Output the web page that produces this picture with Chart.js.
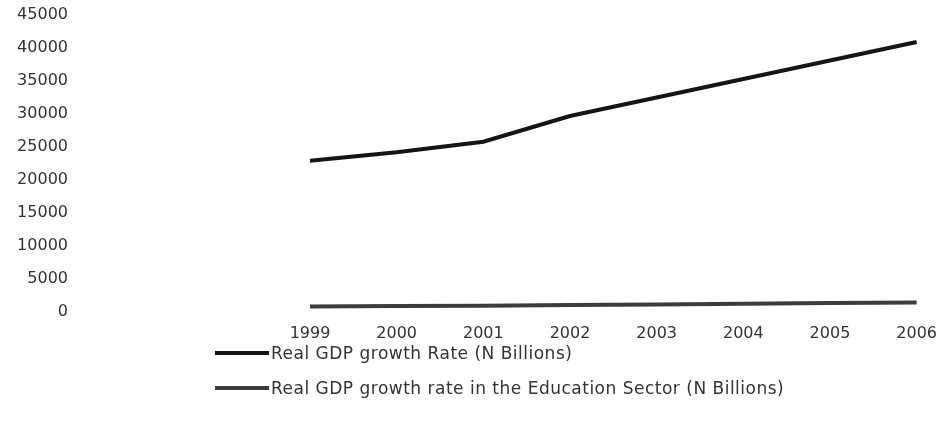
<!DOCTYPE html>
<html>
<head>
<meta charset="utf-8">
<script src="https://cdn.jsdelivr.net/npm/chart.js@4.4.1/dist/chart.umd.min.js"></script>
<style>
  html, body { margin: 0; padding: 0; background: #fff; }
  #wrap { position: relative; width: 949px; height: 428px; }
  #legend { position: absolute; left: 215px; top: 335px; font-family: "DejaVu Sans", sans-serif; font-size: 17px; letter-spacing: 0.5px; color: #333; }
  .item { display: flex; align-items: center; height: 35px; }
  .swatch { width: 54px; height: 4px; margin-right: 2px; }
</style>
</head>
<body>
<div id="wrap">
  <canvas id="c" width="949" height="428"></canvas>
  <div id="legend"></div>
</div>
<script>
const years = ['1999', '2000', '2001', '2002', '2003', '2004', '2005', '2006'];
const gdpTotal = [22900, 24200, 25800, 29700, 32500, 35300, 38100, 40900];
const gdpEducation = [850, 900, 950, 1050, 1150, 1250, 1350, 1450];
const seriesNames = [
  'Real GDP growth Rate (N Billions)',
  'Real GDP growth rate in the Education Sector (N Billions)'
];
const seriesColors = ['#151515', '#3c3c3c'];

const tickFont = { family: '"DejaVu Sans", sans-serif', size: 16 };

const chart = new Chart(document.getElementById('c'), {
  type: 'line',
  data: {
    labels: years,
    datasets: [
      { label: seriesNames[0], data: gdpTotal, borderColor: seriesColors[0], backgroundColor: seriesColors[0], borderWidth: 4, pointRadius: 0, tension: 0 },
      { label: seriesNames[1], data: gdpEducation, borderColor: seriesColors[1], backgroundColor: seriesColors[1], borderWidth: 4, pointRadius: 0, tension: 0 }
    ]
  },
  options: {
    responsive: false,
    animation: false,
    layout: { padding: { left: 0, right: 29, top: 15, bottom: 86 } },
    plugins: { legend: { display: false }, tooltip: { enabled: false } },
    scales: {
      x: {
        offset: false,
        grid: { display: false, drawTicks: false },
        border: { display: false },
        ticks: { color: '#333', font: tickFont, padding: 12, maxRotation: 0 },
        afterFit: s => { s.height = 30; }
      },
      y: {
        min: 0, max: 45000,
        grid: { display: false, drawTicks: false },
        border: { display: false },
        ticks: {
          stepSize: 5000, color: '#333', font: tickFont, padding: 242,
          callback: v => String(v)
        },
        // wide gap between the value labels and the plotted years
        afterFit: s => { s.width = 310; s.paddingTop = 0; s.paddingBottom = 0; }
      }
    }
  }
});

// Stacked legend beneath the plot
const legend = document.getElementById('legend');
chart.data.datasets.forEach(ds => {
  const row = document.createElement('div');
  row.className = 'item';
  const sw = document.createElement('span');
  sw.className = 'swatch';
  sw.style.background = ds.borderColor;
  const txt = document.createElement('span');
  txt.textContent = ds.label;
  row.appendChild(sw);
  row.appendChild(txt);
  legend.appendChild(row);
});
</script>
</body>
</html>
